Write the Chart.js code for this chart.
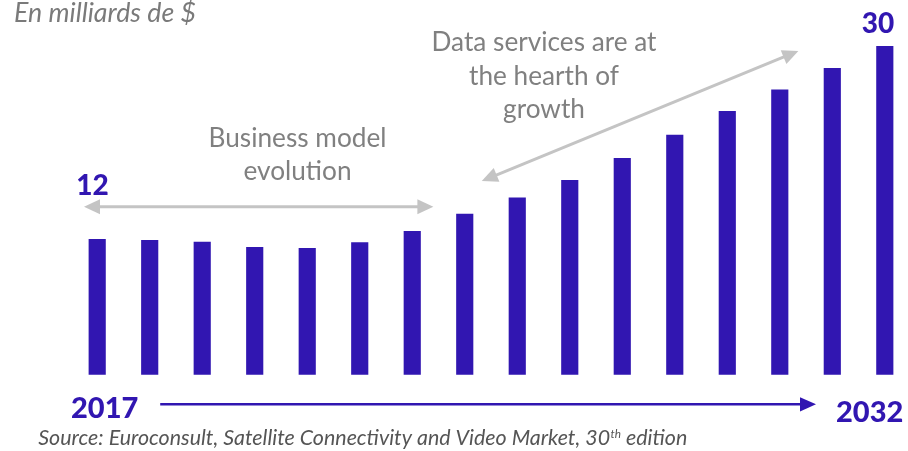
<!DOCTYPE html>
<html>
<head>
<meta charset="utf-8">
<script src="https://cdn.jsdelivr.net/npm/chart.js@4/dist/chart.umd.min.js"></script>
<style>
  html, body { margin: 0; padding: 0; background: #ffffff; overflow: hidden; }
  #wrap { width: 908px; height: 451px; }
</style>
</head>
<body>
<div id="wrap"><canvas id="c" width="908" height="451"></canvas></div>
<script>
// ---- data ----
const years = ["2017","2018","2019","2020","2021","2022","2023","2024","2025","2026","2027","2028","2029","2030","2031","2032"];
const revenue = [12.36, 12.27, 12.11, 11.63, 11.54, 12.05, 13.09, 14.67, 16.16, 17.75, 19.76, 21.89, 24.06, 26.03, 27.99, 30];
const startLabel = "12";
const endLabel = "30";
const firstYear = "2017";
const lastYear = "2032";
const unitText = "En milliards de $";
const noteLeft = ["Business model", "evolution"];
const noteRight = ["Data services are at", "the hearth of", "growth"];
const sourceParts = ["Source: Euroconsult, Satellite Connectivity and Video Market, 30", "th", " edition"];

const BLUE = "#3116B1";
const GREY_TXT = "#808080";
const GREY_ARROW = "#c4c4c4";

function fitFont(ctx, text, width, weight, style, family) {
  ctx.font = `${style} ${weight} 100px ${family}`;
  const w = ctx.measureText(text).width;
  return 100 * width / w;
}
function drawFit(ctx, text, x, y, width, opts) {
  const fam = opts.family || "Lato";
  const size = fitFont(ctx, text, width, opts.weight || "normal", opts.style || "normal", fam);
  ctx.font = `${opts.style || "normal"} ${opts.weight || "normal"} ${size}px ${fam}`;
  ctx.fillStyle = opts.color;
  ctx.textAlign = opts.align || "left";
  ctx.textBaseline = "alphabetic";
  ctx.fillText(text, x, y);
  return size;
}
function arrowHead(ctx, x1, y1, x2, y2, len, half) {
  const a = Math.atan2(y2 - y1, x2 - x1);
  ctx.beginPath();
  ctx.moveTo(x2, y2);
  ctx.lineTo(x2 - len * Math.cos(a) + half * Math.sin(a), y2 - len * Math.sin(a) - half * Math.cos(a));
  ctx.lineTo(x2 - len * Math.cos(a) - half * Math.sin(a), y2 - len * Math.sin(a) + half * Math.cos(a));
  ctx.closePath();
  ctx.fill();
}
function arrow(ctx, x1, y1, x2, y2, color, lw, len, half, both) {
  ctx.save();
  ctx.strokeStyle = color; ctx.fillStyle = color; ctx.lineWidth = lw;
  const a = Math.atan2(y2 - y1, x2 - x1);
  const sx = both ? x1 + (len - 1) * Math.cos(a) : x1;
  const sy = both ? y1 + (len - 1) * Math.sin(a) : y1;
  ctx.beginPath();
  ctx.moveTo(sx, sy);
  ctx.lineTo(x2 - (len - 1) * Math.cos(a), y2 - (len - 1) * Math.sin(a));
  ctx.stroke();
  arrowHead(ctx, x1, y1, x2, y2, len, half);
  if (both) arrowHead(ctx, x2, y2, x1, y1, len, half);
  ctx.restore();
}

const annot = {
  id: "annot",
  afterDraw(chart) {
    const ctx = chart.ctx;
    const xs = chart.scales.x, ys = chart.scales.y;
    const step = xs.getPixelForValue(1) - xs.getPixelForValue(0);
    const X = i => xs.getPixelForValue(0) + step * i;
    const Y = v => ys.getPixelForValue(v);
    ctx.save();
    // header
    drawFit(ctx, unitText, 14, 22, 182, {style: "italic", color: "#7a7a7a"});
    // start / end values
    ctx.font = "900 28px Lato"; ctx.fillStyle = BLUE; ctx.textAlign = "center"; ctx.textBaseline = "alphabetic";
    ctx.fillText(startLabel, X(-0.09), Y(16.41));
    ctx.fillText(endLabel, X(14.87), Y(31.19));
    // grey arrows
    arrow(ctx, X(-0.251), Y(15.34), X(6.402), Y(15.34), GREY_ARROW, 3, 16, 7.5, true);
    arrow(ctx, X(7.324), Y(17.69), X(13.354), Y(29.57), GREY_ARROW, 3, 16, 7.5, true);
    // notes
    const lsize = fitFont(ctx, noteLeft[0], 178, "normal", "normal", "Lato");
    ctx.font = `normal ${lsize}px Lato`; ctx.fillStyle = GREY_TXT; ctx.textAlign = "center";
    ctx.fillText(noteLeft[0], 297.5, 146.5);
    ctx.fillText(noteLeft[1], 297.5, 180);
    const rsize = fitFont(ctx, noteRight[0], 225, "normal", "normal", "Lato");
    ctx.font = `normal ${rsize}px Lato`;
    ctx.fillText(noteRight[0], 544, 51);
    ctx.fillText(noteRight[1], 544, 84.5);
    ctx.fillText(noteRight[2], 544, 118);
    // time axis
    ctx.font = "900 29px Lato"; ctx.fillStyle = BLUE;
    ctx.textAlign = "left"; ctx.fillText(firstYear, 71, 417.7);
    ctx.textAlign = "right"; ctx.fillText(lastYear, 903.3, 422.3);
    arrow(ctx, X(1.2), Y(-2.73), X(13.69), Y(-2.73), BLUE, 2.5, 16, 7.2, false);
    // source
    const fam = "Lato";
    ctx.font = `italic 100px ${fam}`;
    const w0 = ctx.measureText(sourceParts[0]).width;
    const w2 = ctx.measureText(sourceParts[2]).width;
    const w1 = ctx.measureText(sourceParts[1]).width * 0.55;
    const s = 100 * 649 / (w0 + w1 + w2);
    ctx.textAlign = "left"; ctx.fillStyle = "#555555";
    ctx.font = `italic ${s}px ${fam}`;
    let x = 38.3;
    ctx.fillText(sourceParts[0], x, 445); x += w0 * s / 100;
    ctx.font = `italic ${s * 0.55}px ${fam}`;
    ctx.fillText(sourceParts[1], x, 438); x += w1 * s / 100;
    ctx.font = `italic ${s}px ${fam}`;
    ctx.fillText(sourceParts[2], x, 445);
    ctx.restore();
  }
};

new Chart(document.getElementById("c"), {
  type: "bar",
  data: {
    labels: years,
    datasets: [{
      data: revenue,
      backgroundColor: BLUE,
      borderWidth: 0,
      barThickness: 16.5,
      clip: false
    }]
  },
  options: {
    responsive: false,
    animation: false,
    devicePixelRatio: 1,
    layout: { padding: { left: 97.2, right: 23.2, top: 46.3, bottom: 76.5 } },
    plugins: { legend: { display: false }, tooltip: { enabled: false }, title: { display: false } },
    scales: {
      x: { display: false, offset: false, grid: { display: false } },
      y: { display: false, min: 0, max: 30, grid: { display: false } }
    }
  },
  plugins: [annot]
});
</script>
</body>
</html>
